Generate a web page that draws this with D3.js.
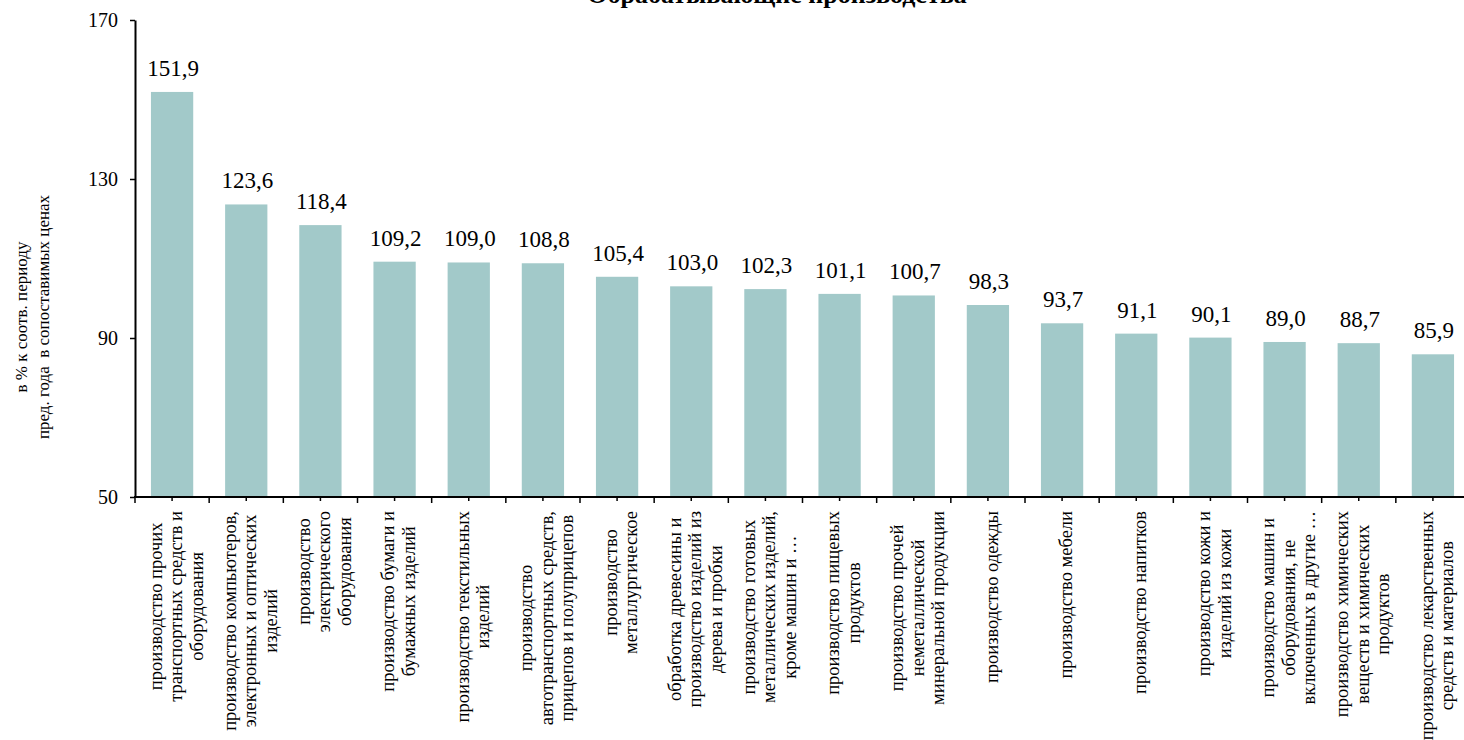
<!DOCTYPE html>
<html><head><meta charset="utf-8">
<script src="https://cdn.jsdelivr.net/npm/d3@7"></script>
</head>
<body style="margin:0;background:#fff;overflow:hidden">
<svg id="chart" width="1464" height="740" font-family="'Liberation Serif', 'Times New Roman', serif"></svg>
<script>
const title = "Обрабатывающие производства";
const yAxisLines = ["в % к соотв. периоду", "пред. года  в сопоставимых ценах"];
const categories = [
  ["производство прочих","транспортных средств и","оборудования"],
  ["производство компьютеров,","электронных и оптических","изделий"],
  ["производство","электрического","оборудования"],
  ["производство бумаги и","бумажных изделий"],
  ["производство текстильных","изделий"],
  ["производство","автотранспортных средств,","прицепов и полуприцепов"],
  ["производство","металлургическое"],
  ["обработка древесины и","производство изделий из","дерева и пробки"],
  ["производство готовых","металлических изделий,","кроме машин и …"],
  ["производство пищевых","продуктов"],
  ["производство прочей","неметаллической","минеральной продукции"],
  ["производство одежды"],
  ["производство мебели"],
  ["производство напитков"],
  ["производство кожи и","изделий из кожи"],
  ["производство машин и","оборудования, не","включенных в другие …"],
  ["производство химических","веществ и химических","продуктов"],
  ["производство лекарственных","средств и материалов"]
];
const values = [151.9,123.6,118.4,109.2,109.0,108.8,105.4,103.0,102.3,101.1,100.7,98.3,93.7,91.1,90.1,89.0,88.7,85.9];
const yTicks = [50,90,130,170];

(function(){
const FONT = "'Liberation Serif', 'Times New Roman', serif";
const svg = d3.select("#chart");
const pLeft = 135, pRight = 1470, pTop = 20, pBottom = 497;
const idx = d3.range(values.length);
const x = d3.scaleBand().domain(idx).range([pLeft, pRight]).paddingInner(0.43).paddingOuter(0.215);
const xb = d3.scaleBand().domain(idx).range([pLeft, pRight]).padding(0);
const y = d3.scaleLinear().domain([50,170]).range([pBottom, pTop]);
const fmt = v => d3.format(".1f")(v).replace(".", ",");

// title
svg.append("text").attr("x", 777).attr("y", 3).attr("text-anchor","middle")
  .style("font-family",FONT).style("font-size","26px").style("font-weight","bold").attr("fill","#000").text(title);

// bars
svg.append("g").selectAll("rect").data(values).join("rect")
  .attr("x", (d,i)=>x(i)).attr("width", x.bandwidth())
  .attr("y", d=>y(d)).attr("height", d=>y(50)-y(d))
  .attr("fill", "#a2c9c9");

// value labels
svg.append("g").selectAll("text").data(values).join("text")
  .attr("x", (d,i)=>xb(i)+xb.bandwidth()/2+1)
  .attr("y", d=>y(d)-16)
  .attr("text-anchor","middle").style("font-family",FONT).style("font-size","23px").attr("fill","#000")
  .text(d=>fmt(d));

// y axis
const yAxis = d3.axisLeft(y).tickValues(yTicks).tickSize(5).tickSizeOuter(0).tickPadding(12);
const gy = svg.append("g").attr("transform",`translate(${pLeft},0)`).call(yAxis);
gy.select(".domain").attr("stroke","#000").attr("stroke-width",2);
gy.selectAll(".tick line").attr("stroke","#000").attr("stroke-width",1.5);
gy.selectAll(".tick text").style("font-size","20px").style("font-family",FONT).attr("fill","#000");

// x axis line
svg.append("line").attr("x1", pLeft-1).attr("x2", pRight).attr("y1", pBottom).attr("y2", pBottom)
  .attr("stroke","#000").attr("stroke-width",2);
const bounds = idx.map(i=>xb(i)).concat([pRight]);
svg.append("g").selectAll("line").data(bounds).join("line")
  .attr("x1",d=>d).attr("x2",d=>d).attr("y1",pBottom).attr("y2",pBottom+6)
  .attr("stroke","#000").attr("stroke-width",1.5);
svg.append("g").selectAll("line").data(idx).join("line")
  .attr("x1",i=>xb(i)+xb.bandwidth()/2).attr("x2",i=>xb(i)+xb.bandwidth()/2)
  .attr("y1",pBottom).attr("y2",pBottom+4)
  .attr("stroke","#000").attr("stroke-width",1.5);

// category labels
const lineH = 20.5, labTop = 511;
const cg = svg.append("g");
categories.forEach((lines,i)=>{
  const cx = xb(i)+xb.bandwidth()/2 + 4;
  const g = cg.append("g").attr("transform",`translate(${cx},${labTop}) rotate(-90)`);
  const texts = lines.map((t,j)=>g.append("text").attr("text-anchor","middle")
    .attr("dominant-baseline","central").style("font-family",FONT).style("font-size","18.5px").attr("fill","#000")
    .attr("y",(j-(lines.length-1)/2)*lineH).text(t));
  const maxW = d3.max(texts, t=>t.node().getComputedTextLength());
  texts.forEach(t=>t.attr("x", -maxW/2));
});

// y axis title
const yt = svg.append("g").attr("transform","translate(32,317) rotate(-90)");
yAxisLines.forEach((t,j)=>yt.append("text").attr("text-anchor","middle")
  .attr("dominant-baseline","central").attr("y",(j-0.5)*22).style("font-family",FONT).style("font-size","17px")
  .attr("fill","#000").style("white-space","pre").text(t));
})();
</script>
</body></html>
